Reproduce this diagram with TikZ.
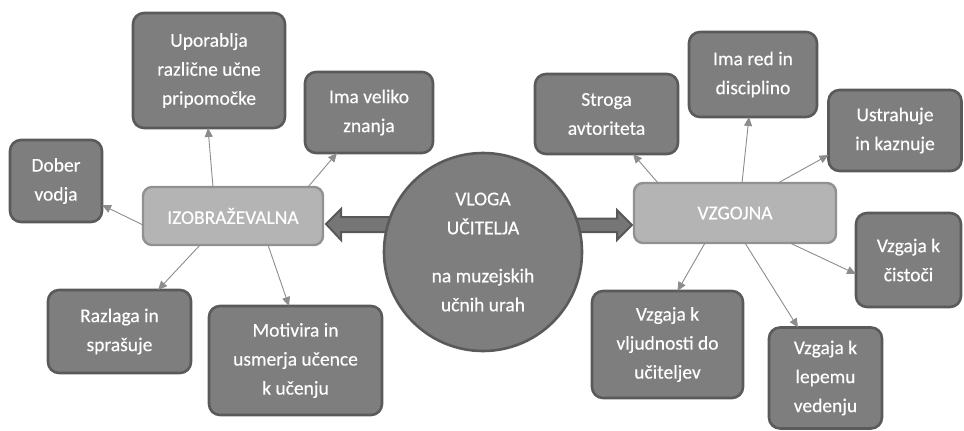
\documentclass[tikz,border=0pt]{standalone}
\usepackage{fontspec}
\setmainfont{Carlito}
\newfontfamily\medfont{Carlito}[FakeBold=0.35]
\usetikzlibrary{arrows.meta}
\definecolor{darkfill}{RGB}{126,126,126}
\definecolor{darkline}{RGB}{90,90,90}
\definecolor{lightfill}{RGB}{180,180,180}
\definecolor{lightline}{RGB}{145,145,145}
\definecolor{arrfill}{RGB}{118,118,118}
\definecolor{arrline}{RGB}{88,88,88}
\definecolor{conn}{RGB}{140,140,140}
\tikzset{
  txt/.style={text=white, align=center, font=\medfont\fontsize{19.5}{29}\selectfont},
  darkbox/.style={txt, rectangle, rounded corners=11pt, fill=darkfill, draw=darkline, line width=2.6pt, outer sep=0pt, inner sep=0pt},
  lightbox/.style={txt, rectangle, rounded corners=9pt, fill=lightfill, draw=lightline, line width=2.4pt, outer sep=0pt, inner sep=0pt},
  bigarrow/.style={fill=arrfill, draw=arrline, line width=2pt, line join=miter},
  link/.style={draw=conn, line width=0.9pt, -{Triangle[length=9pt,width=8pt]}, shorten >=0pt}
}
\begin{document}
\begin{tikzpicture}[x=1pt,y=-1pt]
\useasboundingbox (0,0) rectangle (964,431);
% thick arrows (drawn first, under the circle)
\draw[bigarrow] (326,224) -- (341,209) -- (341,217) -- (395,217) -- (395,232) -- (341,232) -- (341,240) -- cycle;
\draw[bigarrow] (632,225) -- (617,210) -- (617,218.5) -- (568,218.5) -- (568,232) -- (617,232) -- (617,240) -- cycle;
% centre
\node[txt, circle, fill=darkfill, draw=darkline, line width=2.6pt, minimum size=198pt, inner sep=0pt] (c) at (483,252)
  {VLOGA\\UČITELJA\\[19pt]na muzejskih\\učnih urah};
% category boxes
\node[lightbox, minimum width=180pt, minimum height=58pt] (izo) at (233,216) {IZOBRAŽEVALNA};
\node[lightbox, minimum width=202pt, minimum height=60pt] (vzg) at (735,213) {VZGOJNA};
% left leaves
\node[darkbox, minimum width=152pt, minimum height=115pt] (upo) at (209,70.5) {Uporablja\\različne učne\\pripomočke};
\node[darkbox, minimum width=128pt, minimum height=81pt] (ima) at (369,112.5) {Ima veliko\\znanja};
\node[darkbox, minimum width=92pt, minimum height=82pt] (dob) at (56,181) {Dober\\vodja};
\node[darkbox, minimum width=143pt, minimum height=83pt] (raz) at (119.5,331.5) {Razlaga in\\sprašuje};
\node[darkbox, minimum width=173pt, minimum height=109pt] (mot) at (295.5,360.5) {Motivira in\\usmerja učence\\k učenju};
% right leaves
\node[darkbox, minimum width=143pt, minimum height=80pt] (str) at (606.5,114) {Stroga\\avtoriteta};
\node[darkbox, minimum width=128pt, minimum height=85pt] (red) at (753,74.5) {Ima red in\\disciplino};
\node[darkbox, minimum width=133pt, minimum height=81pt] (ust) at (895,130.5) {Ustrahuje\\in kaznuje};
\node[darkbox, minimum width=105pt, minimum height=94pt] (cis) at (908.5,260) {Vzgaja k\\čistoči};
\node[darkbox, minimum width=151pt, minimum height=107pt] (vlj) at (667.5,344.5) {Vzgaja k\\vljudnosti do\\učiteljev};
\node[darkbox, minimum width=113pt, minimum height=101pt] (lep) at (825.5,378) {Vzgaja k\\lepemu\\vedenju};
% connectors
\draw[link] ([xshift=70pt]izo.north west) -- ([xshift=-1pt]upo.south);
\draw[link] ([xshift=-15pt]izo.north east) -- ([xshift=32pt]ima.south west);
\draw[link] ([yshift=-9pt]izo.west) -- ([yshift=-24pt]dob.east);
\draw[link] ([xshift=57pt]izo.south west) -- ([xshift=110pt]raz.north west);
\draw[link] ([xshift=-55pt]izo.south east) -- ([xshift=80pt]mot.north west);
\draw[link] ([xshift=24pt]vzg.north west) -- ([xshift=-45pt]str.south east);
\draw[link] ([xshift=7pt]vzg.north) -- ([xshift=-4pt]red.south);
\draw[link] ([xshift=43pt]vzg.north) -- ([yshift=-24.5pt]ust.west);
\draw[link] ([xshift=-46pt]vzg.south east) -- ([yshift=-14pt]cis.west);
\draw[link] ([xshift=10pt]vzg.south) -- ([xshift=29pt]lep.north west);
\draw[link] ([xshift=-30pt]vzg.south) -- ([xshift=10pt]vlj.north);
\end{tikzpicture}
\end{document}
